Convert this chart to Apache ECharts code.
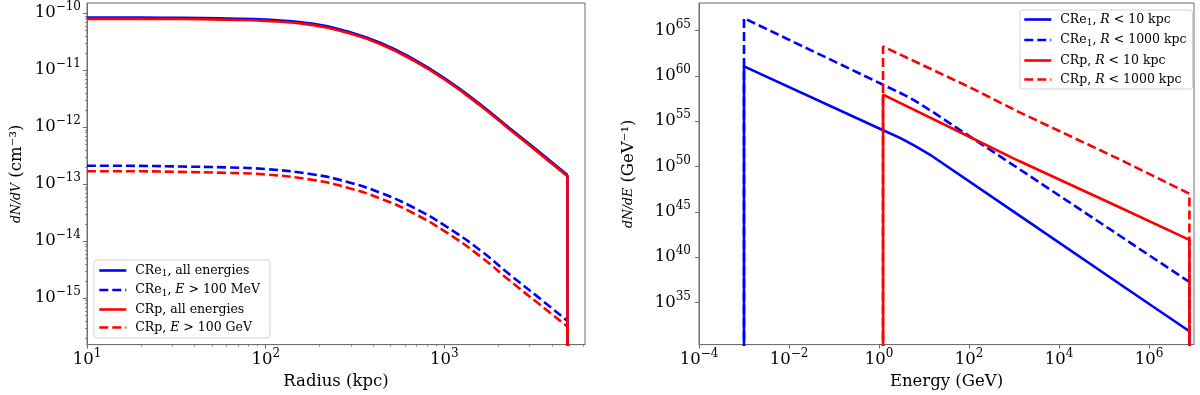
<!DOCTYPE html>
<html><head><meta charset="utf-8">
<script src="https://cdn.jsdelivr.net/npm/echarts@6/dist/echarts.min.js"></script>
<style>html,body{margin:0;padding:0;background:#fff}#c{width:1200px;height:395px}</style>
</head><body><div id="c"></div>
<script>
const SERIF = 'DejaVu Serif';
const BLUE = '#0000ff', RED = '#ff0000', SPINE = '#6f6f6f';

// ---- Left panel: dN/dV vs radius ----
const radius   = [10, 20, 33, 60, 100, 185, 284, 437, 671, 1031, 1585, 2328, 3400, 4880];
const creAll   = [8.35e-11, 8.35e-11, 8.30e-11, 8.07e-11, 7.71e-11, 6.49e-11, 4.81e-11, 3.03e-11, 1.56e-11, 6.80e-12, 2.52e-12, 9.49e-13, 3.65e-13, 1.45e-13];
const creHigh  = [2.11e-13, 2.09e-13, 2.04e-13, 1.97e-13, 1.84e-13, 1.48e-13, 1.10e-13, 7.08e-14, 3.89e-14, 1.78e-14, 6.92e-15, 2.57e-15, 1.0e-15, 3.98e-16];
const crpAll   = [7.94e-11, 7.94e-11, 7.89e-11, 7.67e-11, 7.33e-11, 6.17e-11, 4.57e-11, 2.88e-11, 1.48e-11, 6.46e-12, 2.40e-12, 9.02e-13, 3.47e-13, 1.38e-13];
const crpHigh  = [1.69e-13, 1.68e-13, 1.64e-13, 1.58e-13, 1.48e-13, 1.18e-13, 8.75e-14, 5.62e-14, 3.09e-14, 1.41e-14, 5.43e-15, 2.01e-15, 7.80e-16, 3.16e-16];
const radiusFloor = 1e-17;   // profile drops to zero beyond the last radius

// ---- Right panel: dN/dE vs energy ----
const creEnergy = [1e-3, 1e-3, 1.2, 3, 6, 15, 1300, 2.2e5, 7.9e6, 7.9e6];
const creIn10   = [1e28, 1.1e61, 1.07e54, 1.35e53, 2.1e52, 1.45e51, 4.0e44, 1.17e37, 6.6e31, 1e28];
const creIn1000 = [1e28, 2.3e66, 1.12e59, 1.29e58, 2.1e57, 1.2e56, 5.4e49, 2.45e42, 1.8e37, 1e28];
const crpEnergy = [1.23, 1.23, 104, 1300, 2.2e5, 7.9e6, 7.9e6];
const crpIn10   = [1e28, 8.5e57, 1.8e53, 4.0e50, 3.2e45, 7.9e41, 1e28];
const crpIn1000 = [1e28, 1.74e63, 5.6e58, 1.0e56, 6.3e50, 1.0e47, 1e28];

// ---- ticks ----
const leftXTicks  = [10, 100, 1000];
const leftYTicks  = [1e-15, 1e-14, 1e-13, 1e-12, 1e-11, 1e-10];
const rightXTicks = [1e-4, 1e-2, 1, 1e2, 1e4, 1e6];
const rightYTicks = [1e35, 1e40, 1e45, 1e50, 1e55, 1e60, 1e65];
const leftXDecades = [10, 100, 1000];
const leftYDecades = [1e-16, 1e-15, 1e-14, 1e-13, 1e-12, 1e-11, 1e-10];
const minorMantissas = [2, 3, 4, 5, 6, 7, 8, 9];

const leftXRange = [10, 6120];
const leftYRange = [1.53e-16, 1.51e-10];
const rightXRange = [1e-4, 1e7];
const rightYRange = [2.24e30, 1.1e68];

function minors(decades) {
  const out = [];
  decades.forEach(d => minorMantissas.forEach(m => out.push(+(m * d).toPrecision(3))));
  return out;
}
const zip = (xs, ys) => xs.map((x, i) => [x, ys[i]]);

function powLabel(v) {
  const e = Math.round(Math.log10(v));
  return '{b|10}{s|' + (e < 0 ? '\u2212' : '') + Math.abs(e) + '}';
}
const tickRich = {
  b: { fontFamily: SERIF, fontSize: 16.5, color: '#000', lineHeight: 24 },
  s: { fontFamily: SERIF, fontSize: 12, color: '#000', lineHeight: 12, verticalAlign: 'top' }
};

function majorAxis(type, gridIndex, range, ticks, extra) {
  return Object.assign({
    type: 'log', logBase: 10, gridIndex, min: range[0], max: range[1],
    axisLine: { show: true, onZero: false, lineStyle: { color: SPINE, width: 1 } },
    axisTick: { show: true, inside: false, length: 4, customValues: ticks, lineStyle: { color: SPINE, width: 1 } },
    axisLabel: { show: true, customValues: ticks, formatter: powLabel, rich: tickRich, margin: type === 'x' ? 3 : 6 },
    splitLine: { show: false }, minorTick: { show: false }
  }, extra || {});
}
function minorAxis(gridIndex, range, ticks, position) {
  return {
    type: 'log', logBase: 10, gridIndex, min: range[0], max: range[1], position,
    axisLine: { show: false },
    axisTick: { show: true, inside: false, length: 2, customValues: ticks, lineStyle: { color: SPINE, width: 0.8 } },
    axisLabel: { show: false }, splitLine: { show: false }
  };
}

const nameStyle = { fontFamily: SERIF, fontSize: 16.5, color: '#000' };
const yNameRich = {
  i: { fontFamily: SERIF, fontStyle: 'italic', fontSize: 12.5, color: '#000' },
  t: { fontFamily: SERIF, fontSize: 16.5, color: '#000' }
};

const legendRich = {
  t: { fontFamily: SERIF, fontSize: 12.5, color: '#000', lineHeight: 16 },
  i: { fontFamily: SERIF, fontStyle: 'italic', fontSize: 12.5, color: '#000', lineHeight: 16 },
  sub: { fontFamily: SERIF, fontSize: 9, color: '#000', lineHeight: 9, verticalAlign: 'bottom' }
};
function legendFmt(name) {
  let s = '{t|' + name + '}';
  s = s.replace('\u2081', '}{sub|1}{t|');
  s = s.replace(/ (E|R) /, ' }{i|$1}{t| ');
  return s;
}

const names = {
  creAll: 'CRe\u2081, all energies', creHigh: 'CRe\u2081, E > 100 MeV',
  crpAll: 'CRp, all energies', crpHigh: 'CRp, E > 100 GeV',
  cre10: 'CRe\u2081, R < 10 kpc', cre1000: 'CRe\u2081, R < 1000 kpc',
  crp10: 'CRp, R < 10 kpc', crp1000: 'CRp, R < 1000 kpc'
};
const DASH = [9, 4];

function line(name, data, color, dashed, xi, yi, smooth) {
  return {
    type: 'line', name, data, xAxisIndex: xi, yAxisIndex: yi,
    showSymbol: false, symbol: 'none', smooth: smooth || false, clip: true,
    lineStyle: { color, width: 2.6, type: dashed ? DASH : 'solid', cap: 'butt' },
    itemStyle: { color }, emphasis: { disabled: true }
  };
}
function drop(data, color, dashed) {
  const last = data[data.length - 1];
  return line(null, [[radius[radius.length - 1], last], [radius[radius.length - 1], radiusFloor]], color, dashed, 0, 0, false);
}

const series = [
  line(names.creAll, zip(radius, creAll), BLUE, false, 0, 0, 0.5),
  drop(creAll, BLUE, false),
  line(names.creHigh, zip(radius, creHigh), BLUE, true, 0, 0, 0.5),
  drop(creHigh, BLUE, true),
  line(names.crpAll, zip(radius, crpAll), RED, false, 0, 0, 0.5),
  drop(crpAll, RED, false),
  line(names.crpHigh, zip(radius, crpHigh), RED, true, 0, 0, 0.5),
  drop(crpHigh, RED, true),
  line(names.cre10, zip(creEnergy, creIn10), BLUE, false, 2, 2),
  line(names.cre1000, zip(creEnergy, creIn1000), BLUE, true, 2, 2),
  line(names.crp10, zip(crpEnergy, crpIn10), RED, false, 2, 2),
  line(names.crp1000, zip(crpEnergy, crpIn1000), RED, true, 2, 2)
];
series.forEach((s, i) => { if (!s.name) s.name = '_edge' + i; });

const legendBase = {
  orient: 'vertical', itemWidth: 27, itemHeight: 14,
  backgroundColor: 'rgba(255,255,255,0.85)', borderColor: '#d4d4d4', borderWidth: 1, borderRadius: 3,
  formatter: legendFmt, textStyle: { rich: legendRich, padding: [0, 0, 0, 4] },
  itemStyle: { opacity: 0, borderWidth: 0 },
  lineStyle: { width: 2.6 },
  selectedMode: false
};

const option = {
  animation: false,
  backgroundColor: '#fff',
  grid: [
    { left: 87, top: 3, width: 498, height: 343, show: true, borderColor: SPINE, borderWidth: 1, containLabel: false },
    { left: 699, top: 3, width: 495, height: 343, show: true, borderColor: SPINE, borderWidth: 1, containLabel: false }
  ],
  xAxis: [
    majorAxis('x', 0, leftXRange, leftXTicks, { position: 'bottom', name: 'Radius (kpc)', nameLocation: 'middle', nameGap: 28, nameTextStyle: nameStyle }),
    minorAxis(0, leftXRange, minors(leftXDecades), 'bottom'),
    majorAxis('x', 1, rightXRange, rightXTicks, { position: 'bottom', name: 'Energy (GeV)', nameLocation: 'middle', nameGap: 28, nameTextStyle: nameStyle })
  ],
  yAxis: [
    majorAxis('y', 0, leftYRange, leftYTicks, { position: 'left', name: '{i|dN/dV}{t| (cm\u207B\u00B3)}', nameLocation: 'middle', nameRotate: 90, nameGap: 62, nameTextStyle: { rich: yNameRich } }),
    minorAxis(0, leftYRange, minors(leftYDecades), 'left'),
    majorAxis('y', 1, rightYRange, rightYTicks, { position: 'left', name: '{i|dN/dE}{t| (GeV\u207B\u00B9)}', nameLocation: 'middle', nameRotate: 90, nameGap: 62, nameTextStyle: { rich: yNameRich }, axisLabel: { show: true, customValues: rightYTicks, formatter: powLabel, rich: tickRich, margin: 8 } })
  ],
  legend: [
    Object.assign({}, legendBase, { left: 94, top: 260, itemGap: 5, padding: [4, 10, 4, 4], data: [names.creAll, names.creHigh, names.crpAll, names.crpHigh] }),
    Object.assign({}, legendBase, { left: 1020, top: 10, itemGap: 6, padding: [3, 6, 3, 3], data: [names.cre10, names.cre1000, names.crp10, names.crp1000] })
  ],
  series
};

const chart = echarts.init(document.getElementById('c'), null, { renderer: 'canvas' });
chart.setOption(option);
</script>
</body></html>
